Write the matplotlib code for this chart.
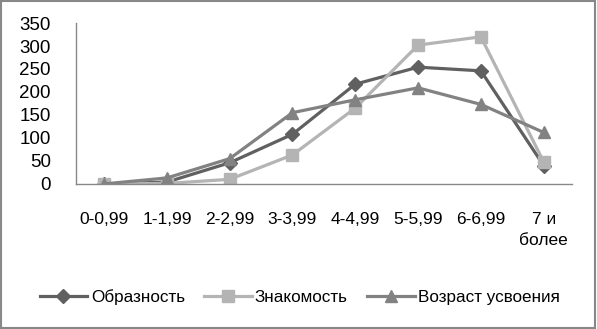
import matplotlib.pyplot as plt
from matplotlib.patches import Rectangle

categories = ["0-0,99", "1-1,99", "2-2,99", "3-3,99", "4-4,99", "5-5,99", "6-6,99", "7 и\nболее"]
obraznost = [0, 4, 46, 108, 217, 254, 246, 40]
znakomost = [0, 1, 10, 63, 165, 302, 320, 48]
vozrast = [0, 13, 55, 155, 183, 209, 173, 112]

plt.rcParams["font.family"] = ["Liberation Sans", "DejaVu Sans"]

fig = plt.figure(figsize=(5.97, 3.29), dpi=100)
ax = fig.add_axes([0.127, 0.441, 0.831, 0.489])

x = range(len(categories))
ax.plot(x, obraznost, color="#606060", lw=2.3, marker="D", ms=7, label="Образность")
ax.plot(x, znakomost, color="#b4b4b4", lw=2.3, marker="s", ms=9, label="Знакомость")
ax.plot(x, vozrast, color="#828282", lw=2.3, marker="^", ms=9, label="Возраст усвоения")

ax.set_ylim(0, 350)
ax.set_xlim(-0.45, 7.45)
ax.set_yticks(range(0, 351, 50))
ax.set_xticks(list(x))
ax.set_xticklabels(categories, fontsize=12.5, va="top", linespacing=1.55)
ax.tick_params(axis="y", labelsize=13.5, length=0, pad=18)
ax.tick_params(axis="x", length=0, pad=20)
for s in ("top", "right"):
    ax.spines[s].set_visible(False)
for s in ("left", "bottom"):
    ax.spines[s].set_color("#888888")
    ax.spines[s].set_linewidth(1)

fig.legend(loc="center", bbox_to_anchor=(0.502, 0.097), ncol=3, frameon=False,
           fontsize=12.3, handlelength=2.8, handletextpad=0.2, columnspacing=1.1)

fig.patches.append(Rectangle((0.002, 0.003), 0.995, 0.994, transform=fig.transFigure,
                             fill=False, edgecolor="#888888", lw=1.5))
fig.savefig("out.png", dpi=100)
